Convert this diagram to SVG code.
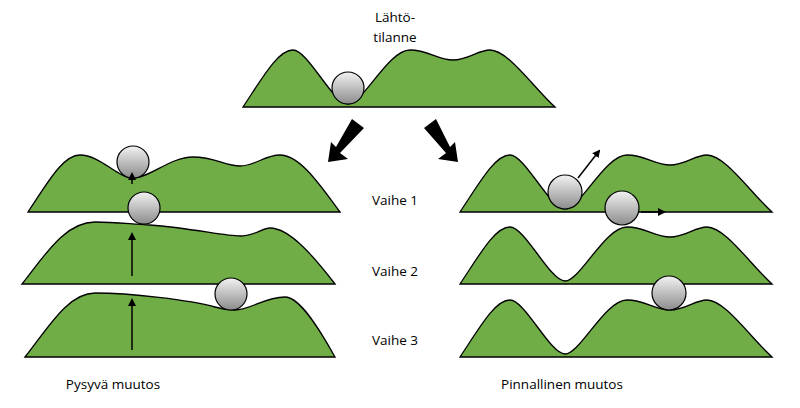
<svg xmlns="http://www.w3.org/2000/svg" width="800" height="408" viewBox="0 0 800 408">
<style>
.hill{fill:#70ad47;stroke:#000;stroke-width:1.3}
.ball{fill:url(#g);stroke:#000;stroke-width:1.2}
.t{font-family:"Open Sans","Liberation Sans",sans-serif;font-size:13.5px;fill:#000;text-anchor:middle}
.a{stroke:#000;stroke-width:1.5;marker-end:url(#m)}
</style>
<defs>
<linearGradient id="g" x1="0" y1="0" x2="0" y2="1"><stop offset="0" stop-color="#f2f2f2"/><stop offset="1" stop-color="#8c8c8c"/></linearGradient>
<marker id="m" markerWidth="8" markerHeight="8" refX="6" refY="4" orient="auto" markerUnits="userSpaceOnUse"><path d="M0,0 L8,4 L0,8 Z"/></marker>
<path id="deep" d="M0,0 C20,-30 35,-57 50,-57 C65,-57 90,-3 105,-3 C120,-3 145,-57 167,-57 C185,-57 195,-47 210,-47 C225,-47 235,-57 247,-57 C265,-57 290,-20 312,0 Z"/>
</defs>
<g id="top"><use href="#deep" class="hill" transform="translate(243,107)"/><circle class="ball" cx="348" cy="88" r="16"/></g>
<g id="left1"><path class="hill" d="M28,212 C48,182 63,155 80,155 C100,155 118,178 133,178 C150,178 170,157 193,157 C215,157 225,166 240,166 C255,166 265,155 280,155 C300,155 320,185 340,212 Z"/><circle class="ball" cx="133" cy="162" r="16"/></g>
<g id="left2"><path class="hill" d="M22,284 C45,255 65,222 95,222 C115,222 130,224 150,225 C190,228 225,236 240,236 C255,236 262,228 270,228 C290,228 315,258 335,284 Z"/><circle class="ball" cx="144" cy="208" r="16"/></g>
<g id="left3"><path class="hill" d="M25,357 C48,328 68,293 95,293 C130,293 190,300 215,307 C225,310 230,310 235,310 C250,310 265,297 285,297 C300,297 320,330 335,357 Z"/><circle class="ball" cx="231" cy="294" r="16"/></g>
<g id="right1"><use href="#deep" class="hill" transform="translate(460,212)"/><circle class="ball" cx="565" cy="192" r="17"/></g>
<g id="right2"><use href="#deep" class="hill" transform="translate(460,284)"/><circle class="ball" cx="622" cy="208" r="17"/></g>
<g id="right3"><use href="#deep" class="hill" transform="translate(460,357)"/><circle class="ball" cx="669" cy="293" r="17"/></g>
<g id="connectors">
<line class="a" x1="132" y1="184" x2="132" y2="174"/>
<line class="a" x1="132" y1="276" x2="132" y2="234"/>
<line class="a" x1="132" y1="350" x2="132" y2="300"/>
<line class="a" x1="578" y1="178" x2="599" y2="151"/>
<line class="a" x1="641" y1="212" x2="664" y2="212"/>
<path d="M352,119 L364,128 L340,153 L348,159 L328,162 L331,142 L336,147 Z"/>
<path d="M436,119 L424,128 L446,153 L438,159 L458,162 L455,142 L450,147 Z"/>
</g>
<text class="t" x="395" y="22">Lähtö-</text>
<text class="t" x="395" y="42">tilanne</text>
<text class="t" x="395" y="205">Vaihe 1</text>
<text class="t" x="395" y="276">Vaihe 2</text>
<text class="t" x="395" y="345">Vaihe 3</text>
<text class="t" x="113" y="389">Pysyvä muutos</text>
<text class="t" x="562" y="389">Pinnallinen muutos</text>
</svg>
